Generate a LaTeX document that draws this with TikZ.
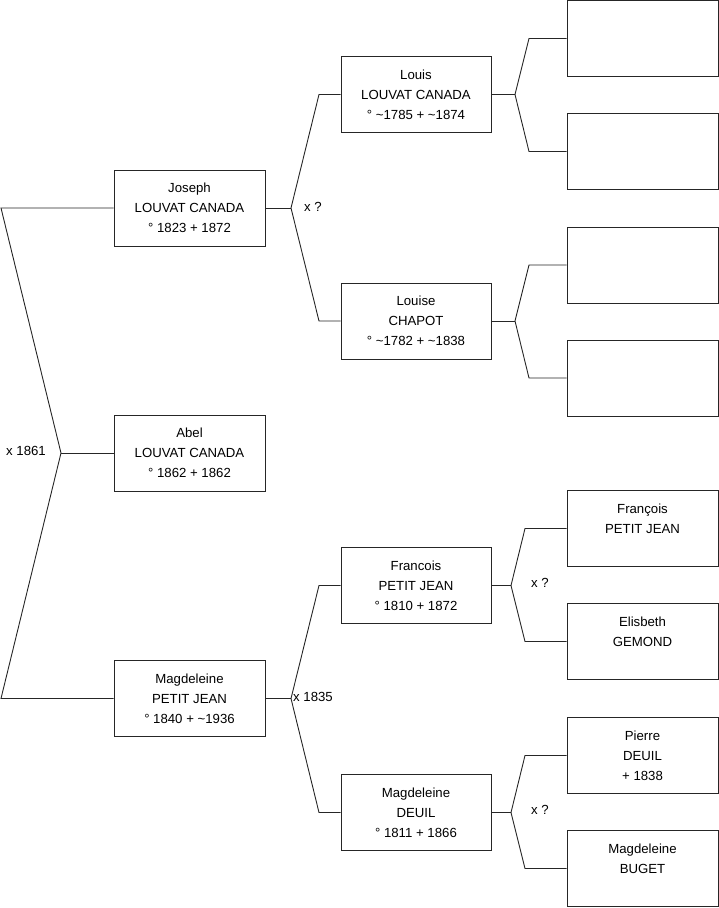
\documentclass[tikz,border=0pt]{standalone}
\usepackage{fontspec}
\setmainfont{Liberation Sans}
\newcommand{\tl}{\textasciitilde}
\begin{document}
\begin{tikzpicture}[x=1pt,y=-1pt,
  person/.style={draw=black!85, line width=0.9pt, minimum width=151pt, minimum height=76pt, align=center, font=\fontsize{13.2}{20}\selectfont, inner sep=0pt},
  link/.style={draw=black!85, line width=0.9pt},
  lbl/.style={font=\fontsize{13.2}{15}\selectfont, inner sep=0pt}]
\useasboundingbox (0,0) rectangle (719,908);
% column 1
\node[person] (jo) at (189.5,208) {Joseph\\LOUVAT CANADA\\° 1823 + 1872};
\node[person] (ab) at (189.5,453) {Abel\\LOUVAT CANADA\\° 1862 + 1862};
\node[person] (ma) at (189.5,698.5) {Magdeleine\\PETIT JEAN\\° 1840 + \tl1936};
% column 2
\node[person, minimum width=150pt] (lo) at (416,94.5) {Louis\\LOUVAT CANADA\\° \tl1785 + \tl1874};
\node[person, minimum width=150pt] (le) at (416,321) {Louise\\CHAPOT\\° \tl1782 + \tl1838};
\node[person, minimum width=150pt] (fr) at (416,585.5) {Francois\\PETIT JEAN\\° 1810 + 1872};
\node[person, minimum width=150pt] (md) at (416,812.5) {Magdeleine\\DEUIL\\° 1811 + 1866};
% column 3
\node[person] (g1) at (642.5,38.5) {};
\node[person] (g2) at (642.5,151.5) {};
\node[person] (g3) at (642.5,265) {};
\node[person] (g4) at (642.5,378) {};
\node[person] (g5) at (642.5,528.5) {François\\PETIT JEAN\\\mbox{}};
\node[person] (g6) at (642.5,641.5) {Elisbeth\\GEMOND\\\mbox{}};
\node[person] (g7) at (642.5,755.5) {Pierre\\DEUIL\\+ 1838};
\node[person] (g8) at (642.5,868.5) {Magdeleine\\BUGET\\\mbox{}};
% bracket coordinates
\coordinate (a1) at (1,208);
\coordinate (v1) at (61,453);
\coordinate (b1) at (1,698.5);
\coordinate (v2) at (291,208);
\coordinate (a2) at (319,94.5);
\coordinate (b2) at (319,321);
\coordinate (v3) at (291,698.5);
\coordinate (a3) at (319,585.5);
\coordinate (b3) at (319,812.5);
\coordinate (v4) at (515,94.5);
\coordinate (a4) at (529,38.5);
\coordinate (b4) at (529,151.5);
\coordinate (v5) at (515,321);
\coordinate (a5) at (529,265);
\coordinate (b5) at (529,378);
\coordinate (v6) at (511,585.5);
\coordinate (a6) at (525,528.5);
\coordinate (b6) at (525,641.5);
\coordinate (v7) at (511,812.5);
\coordinate (a7) at (525,755.5);
\coordinate (b7) at (525,868.5);
% connectors
\draw[link] (jo.west) -- (a1) -- (v1) -- (b1) -- (ma.west);
\draw[link] (v1) -- (ab.west);
\draw[link] (jo.east) -- (v2);
\draw[link] (lo.west) -- (a2) -- (v2) -- (b2) -- (le.west);
\draw[link] (ma.east) -- (v3);
\draw[link] (fr.west) -- (a3) -- (v3) -- (b3) -- (md.west);
\draw[link] (lo.east) -- (v4);
\draw[link] (g1.west) -- (a4) -- (v4) -- (b4) -- (g2.west);
\draw[link] (le.east) -- (v5);
\draw[link] (g3.west) -- (a5) -- (v5) -- (b5) -- (g4.west);
\draw[link] (fr.east) -- (v6);
\draw[link] (g5.west) -- (a6) -- (v6) -- (b6) -- (g6.west);
\draw[link] (md.east) -- (v7);
\draw[link] (g7.west) -- (a7) -- (v7) -- (b7) -- (g8.west);
% labels
\node[lbl, anchor=east] (l1) at (46,451) {x 1861};
\node[lbl, anchor=west] (l2) at (304,207) {x ?};
\node[lbl, anchor=west] (l3) at (293,697) {x 1835};
\node[lbl, anchor=west] (l4) at (531,583) {x ?};
\node[lbl, anchor=west] (l5) at (531,810) {x ?};
\end{tikzpicture}
\end{document}
